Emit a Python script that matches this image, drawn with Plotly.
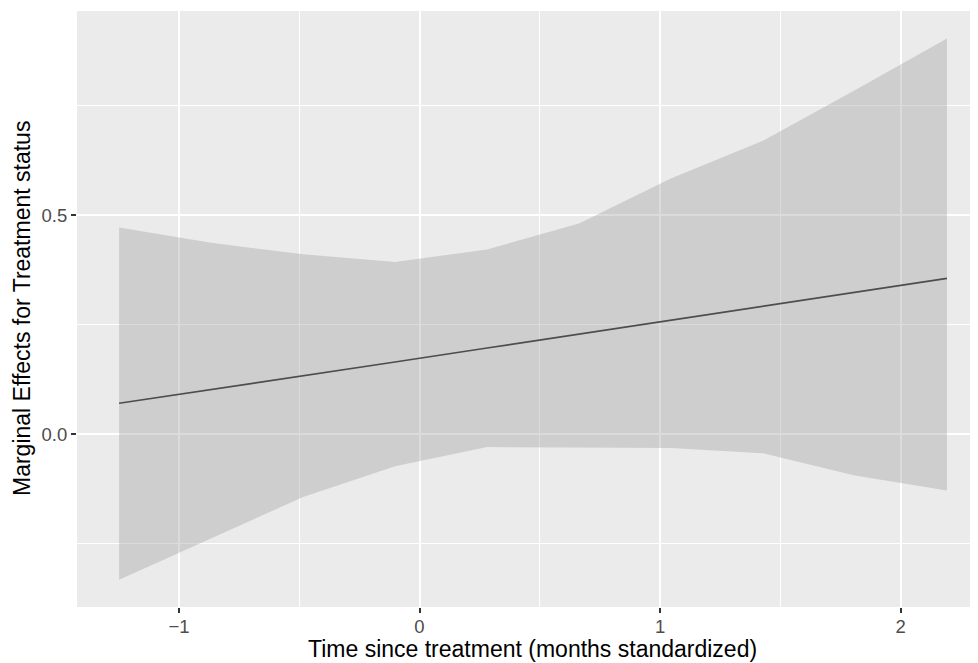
import plotly.graph_objects as go

# Data
time_x = [-1.249, -0.867, -0.484, -0.102, 0.281, 0.663, 1.045, 1.428, 1.810, 2.193]
effect = [0.071, 0.102, 0.134, 0.165, 0.197, 0.229, 0.260, 0.292, 0.324, 0.356]
upper = [0.472, 0.437, 0.411, 0.393, 0.422, 0.481, 0.584, 0.670, 0.785, 0.903]
lower = [-0.332, -0.237, -0.143, -0.073, -0.029, -0.030, -0.031, -0.043, -0.094, -0.128]

x_ticks = [-1, 0, 1, 2]
x_tick_labels = ["\u22121", "0", "1", "2"]
y_ticks = [0.0, 0.5]
y_tick_labels = ["0.0", "0.5"]

x_title = "Time since treatment (months standardized)"
y_title = "Marginal Effects for Treatment status"

fig = go.Figure()
fig.add_trace(go.Scatter(x=time_x, y=lower, mode="lines", line=dict(width=0),
                         showlegend=False, hoverinfo="skip"))
fig.add_trace(go.Scatter(x=time_x, y=upper, mode="lines", line=dict(width=0),
                         fill="tonexty", fillcolor="rgba(153,153,153,0.35)",
                         showlegend=False, hoverinfo="skip"))
fig.add_trace(go.Scatter(x=time_x, y=effect, mode="lines",
                         line=dict(color="#4d4d4d", width=1.7), showlegend=False))

FONT = "Liberation Sans, Arial, sans-serif"
axis_font = dict(family=FONT, size=18.5, color="#4d4d4d")
title_font = dict(family=FONT, size=23, color="#000000")

common = dict(showgrid=True, gridcolor="white", gridwidth=2, zeroline=False,
              ticks="outside", ticklen=5, tickcolor="#333333", tickwidth=1.8,
              tickfont=axis_font, showline=False, automargin=False)

# The page body adds an 8px offset, so the figure is sized to fit the window.
fig.update_layout(
    width=970, height=655,
    margin=dict(l=69, r=0, t=3, b=56),
    paper_bgcolor="white", plot_bgcolor="#ebebeb",
    font=dict(family=FONT),
    xaxis=dict(range=[-1.424, 2.322], tickvals=x_ticks, ticktext=x_tick_labels,
               ticklabelstandoff=-2,
               minor=dict(dtick=0.5, tick0=0.5, showgrid=True, gridcolor="white",
                          gridwidth=1.1, ticks=""),
               **common),
    yaxis=dict(range=[-0.394, 0.966], tickvals=y_ticks, ticktext=y_tick_labels,
               minor=dict(dtick=0.5, tick0=0.25, showgrid=True, gridcolor="white",
                          gridwidth=1.1, ticks=""),
               **common),
    annotations=[
        dict(text=x_title, xref="paper", yref="paper", x=0.505, y=0,
             xanchor="center", yanchor="middle", yshift=-42, showarrow=False,
             font=title_font),
        dict(text=y_title, xref="paper", yref="paper", x=0, y=0.5,
             xanchor="center", yanchor="middle", xshift=-55, textangle=-90,
             showarrow=False, font=title_font),
    ],
)

fig.write_html("out.html")
